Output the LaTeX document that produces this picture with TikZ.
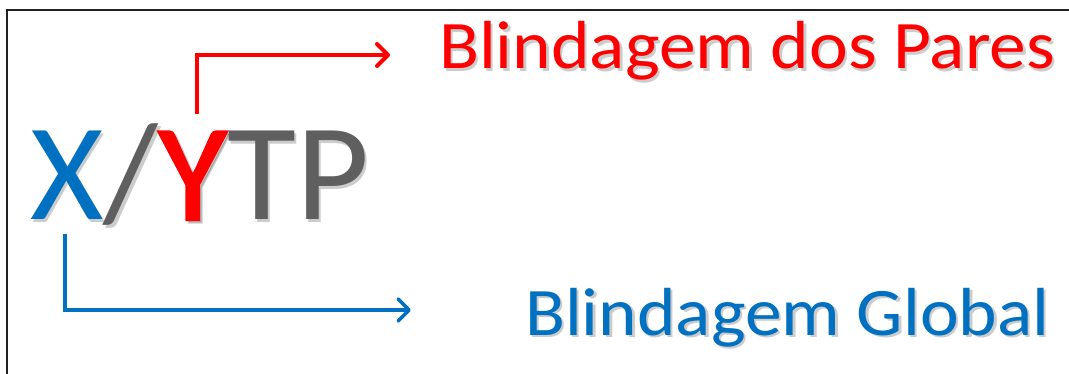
\documentclass[tikz,border=0pt]{standalone}
\usepackage{fontspec}
\setmainfont{Carlito}
\newfontfamily\heavyY[FakeBold=1.6]{Carlito}
\usetikzlibrary{arrows.meta}
\definecolor{xblue}{HTML}{0070C0}
\definecolor{yred}{HTML}{FF0000}
\definecolor{tgray}{HTML}{5F5F5F}
\definecolor{frame}{HTML}{202020}
\newcommand{\ytpword}[4]{{\color{#1}X}{\color{#2}/}{\heavyY\color{#3}Y}{\color{#4}TP}}
\tikzset{
  label/.style={inner sep=0pt, anchor=base west, xscale=1.08, font=\fontsize{68}{70}\selectfont},
  bigword/.style={inner sep=0pt, anchor=base west, xscale=1.025, font=\fontsize{138}{140}\selectfont},
  shadow/.style={opacity=0.2},
  pointer/.style={line width=4pt, -{Straight Barb[length=11pt,width=22pt,line cap=round,line join=round]}, line join=miter}
}
\begin{document}
\begin{tikzpicture}[x=1pt,y=-1pt]
  \useasboundingbox[fill=white] (0,0) rectangle (1069,374);
  % frame (only its left and top sides are visible)
  \draw[frame, line width=2pt] (7,374) -- (7,10) -- (1069,10);

  % soft shadows behind the lettering
  \node[bigword, shadow] at (32.5,222.5) {\ytpword{black}{black}{black}{black}};
  \node[label, shadow] at (441.5,71.5) {\color{black}Blindagem dos Pares};
  \node[label, shadow] at (527.5,337.5) {\color{black}Blindagem Global};

  % main word
  \node[bigword] (word) at (30,220) {\ytpword{xblue}{tgray}{yred}{tgray}};

  % labels
  \node[label, text=yred] (pairs) at (439,69) {Blindagem dos Pares};
  \node[label, text=xblue] (global) at (525,335) {Blindagem Global};

  % connector end points
  \coordinate (ytop) at (197,114);
  \coordinate (xbot) at (65,234);
  \coordinate (pairsin) at (390,55);
  \coordinate (globalin) at (411,310);

  \draw[pointer, yred] (ytop) |- (pairsin);
  \draw[pointer, xblue, line width=3.6pt] (xbot) |- (globalin);
\end{tikzpicture}
\end{document}
